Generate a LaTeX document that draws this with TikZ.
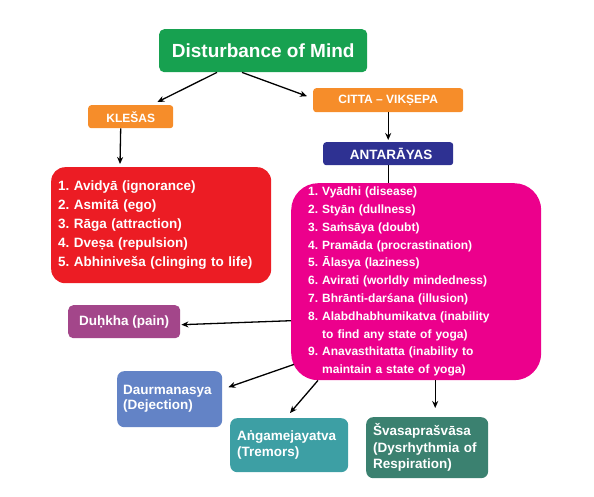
\documentclass[tikz,border=0pt]{standalone}
\usepackage{fontspec}
\setmainfont{Liberation Sans}
\usetikzlibrary{arrows.meta,calc}
\frenchspacing
\definecolor{cgreen}{HTML}{17A150}
\definecolor{corange}{HTML}{F68D2A}
\definecolor{cnavy}{HTML}{2E3192}
\definecolor{cred}{HTML}{EC1C24}
\definecolor{cpink}{HTML}{EC008C}
\definecolor{cpurple}{HTML}{A3468A}
\definecolor{cblue}{HTML}{6383C6}
\definecolor{cteal}{HTML}{3D9FA4}
\definecolor{cdkteal}{HTML}{3B8170}
\tikzset{
  box/.style={rounded corners=5pt, text=white, font=\bfseries, inner sep=0pt, anchor=north west},
  arr/.style={-{Stealth[length=7pt,width=6pt]}, line width=1.3pt, black},
  plainline/.style={line width=1.3pt, black},
}
\begin{document}
\begin{tikzpicture}[x=1pt,y=-1pt]
\useasboundingbox (0,0) rectangle (594,497);
% boxes
\node[box, fill=cgreen, minimum width=208pt, minimum height=43pt, font=\bfseries\fontsize{19}{22}\selectfont] (title) at (159,29) {Disturbance of Mind};
\node[box, fill=corange, rounded corners=3pt, minimum width=85pt, minimum height=23pt, font=\bfseries\fontsize{12}{14}\selectfont] (kles) at (88,105) {KLEŠAS};
\node[box, fill=corange, rounded corners=3pt, minimum width=150pt, minimum height=24pt, font=\bfseries\fontsize{12}{14}\selectfont] (citta) at (313,88) {CITTA – VIKṢEPA};
\node[box, fill=cnavy, rounded corners=3pt, minimum width=130pt, minimum height=23pt, font=\bfseries\fontsize{13.5}{15}\selectfont] (antar) at (323,142) {\hspace*{6pt}ANTARĀYAS};
\node[box, fill=cred, rounded corners=14pt, minimum height=116pt, inner xsep=7pt, text width=206pt, align=left, font=\bfseries\fontsize{13.5}{19}\selectfont] (red) at (51,167) {1. Avidyā (ignorance)\\2. Asmitā (ego)\\3. Rāga (attraction)\\4. Dveṣa (repulsion)\\5. Abhiniveša (clinging to life)};
\node[box, fill=cpink, rounded corners=27pt, minimum height=197pt, inner xsep=17pt, text width=216pt, align=left, font=\bfseries\fontsize{12}{17.8}\selectfont] (pink) at (291,183) {1. Vyādhi (disease)\\2. Styān (dullness)\\3. Saṁsāya (doubt)\\4. Pramāda (procrastination)\\5. Ālasya (laziness)\\6. Avirati (worldly mindedness)\\7. Bhrānti-darśana (illusion)\\8. Alabdhabhumikatva (inability\\\hspace*{14pt}to find any state of yoga)\\9. Anavasthitatta (inability to\\\hspace*{14pt}maintain a state of yoga)};
\node[box, fill=cpurple, minimum width=112pt, minimum height=33pt, font=\bfseries\fontsize{13.5}{16}\selectfont] (duh) at (68,305) {Duḥkha (pain)};
\node[box, fill=cblue, rounded corners=7pt, minimum height=56pt, inner xsep=6pt, text width=93pt, align=left, font=\bfseries\fontsize{13.5}{15}\selectfont] (daur) at (117,371) {Daurmanasya\\(Dejection)};
\node[box, fill=cteal, rounded corners=7pt, minimum height=54pt, inner xsep=7pt, text width=104pt, align=left, font=\bfseries\fontsize{13.5}{16.5}\selectfont] (anga) at (230,418) {Aṅgamejayatva\\(Tremors)};
\node[box, fill=cdkteal, rounded corners=7pt, minimum height=61pt, inner xsep=7pt, text width=108pt, align=left, font=\bfseries\fontsize{13.5}{16.5}\selectfont] (svasa) at (366,417) {Švasaprašvāsa\\(Dysrhythmia of\\Respiration)};
% connectors
\draw[arr] ($(title.south west)+(58,0)$) -- ($(kles.north east)+(-16,-3)$);
\draw[arr] ($(title.south west)+(83,0)$) -- ($(citta.west)+(-6,-4)$);
\draw[arr] (citta.south) -- ($(antar.north)+(0,-2)$);
\draw[arr] ($(kles.south)+(-10,0)$) -- ($(red.north west)+(69,-3)$);
\draw[plainline] (antar.south) -- (antar.south |- pink.north);
\draw[arr] ($(pink.west)+(0,39)$) -- ($(duh.east)+(1,3)$);
\draw[arr] ($(pink.south west)+(3,-16)$) -- ($(daur.east)+(6,-12)$);
\draw[arr] ($(pink.south west)+(27,0)$) -- ($(anga.north west)+(60,-5)$);
\draw[arr] ($(pink.south)+(19,0)$) -- ($(svasa.north)+(8,-9)$);
\end{tikzpicture}
\end{document}
